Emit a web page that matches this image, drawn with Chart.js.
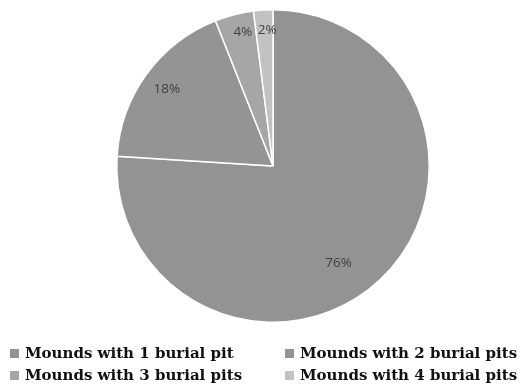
<!DOCTYPE html>
<html>
<head>
<meta charset="utf-8">
<script src="https://cdn.jsdelivr.net/npm/chart.js@4.4.1/dist/chart.umd.min.js"></script>
<style>
  html, body { margin: 0; padding: 0; background: #fff; }
  #wrap { position: relative; width: 520px; height: 385px; }
  #legend { position: absolute; left: 0; top: 340px; width: 520px; }
  .item { position: absolute; display: flex; align-items: center;
          font-family: "DejaVu Serif", serif; font-weight: bold; font-size: 15px; color: #111; white-space: nowrap; }
  .sw { width: 9px; height: 9px; margin-right: 6px; }
</style>
</head>
<body>
<div id="wrap">
  <canvas id="c" width="520" height="385"></canvas>
  <div id="legend"></div>
</div>
<script>
// Burial pits per mound
const categories = [
  "Mounds with 1 burial pit",
  "Mounds with 2 burial pits",
  "Mounds with 3 burial pits",
  "Mounds with 4 burial pits"
];
const shares = [76, 18, 4, 2];
const sliceColors = ["#939393", "#949494", "#a6a6a6", "#c2c2c2"];

// Percentage labels drawn inside each slice
const sliceLabels = {
  id: "sliceLabels",
  afterDatasetsDraw(chart, args, opts) {
    const ctx = chart.ctx;
    const meta = chart.getDatasetMeta(0);
    ctx.save();
    ctx.font = "13.5px 'Open Sans', sans-serif";
    ctx.fillStyle = "#404040";
    ctx.textAlign = "center";
    ctx.textBaseline = "middle";
    meta.data.forEach((arc, i) => {
      const p = arc.getProps(["x", "y", "startAngle", "endAngle", "outerRadius"], true);
      let mid = (p.startAngle + p.endAngle) / 2;
      if (opts.angleShift[i]) mid += opts.angleShift[i];
      const r = p.outerRadius * opts.radius[i];
      ctx.fillText(shares[i] + "%", p.x + Math.cos(mid) * r, p.y + Math.sin(mid) * r);
    });
    ctx.restore();
  }
};

new Chart(document.getElementById("c"), {
  type: "pie",
  data: {
    labels: categories,
    datasets: [{
      data: shares,
      backgroundColor: sliceColors,
      borderColor: "#ffffff",
      borderWidth: 1.5
    }]
  },
  options: {
    responsive: false,
    animation: false,
    layout: { padding: { left: 26, right: 0, top: 9, bottom: 62 } },
    plugins: {
      legend: { display: false },
      tooltip: { enabled: false },
      sliceLabels: { radius: [0.75, 0.84, 0.88, 0.87], angleShift: [0.16, 0, 0.03, 0.02] }
    }
  },
  plugins: [sliceLabels]
});

// Two-column legend below the pie
const legend = document.getElementById("legend");
const cols = [10, 285], rows = [15, 37];
categories.forEach((name, i) => {
  const el = document.createElement("div");
  el.className = "item";
  el.style.left = cols[i % 2] + "px";
  el.style.top = (rows[Math.floor(i / 2)] - 11) + "px";
  const sw = document.createElement("span");
  sw.className = "sw";
  sw.style.background = sliceColors[i];
  el.appendChild(sw);
  el.appendChild(document.createTextNode(name));
  legend.appendChild(el);
});
</script>
</body>
</html>
